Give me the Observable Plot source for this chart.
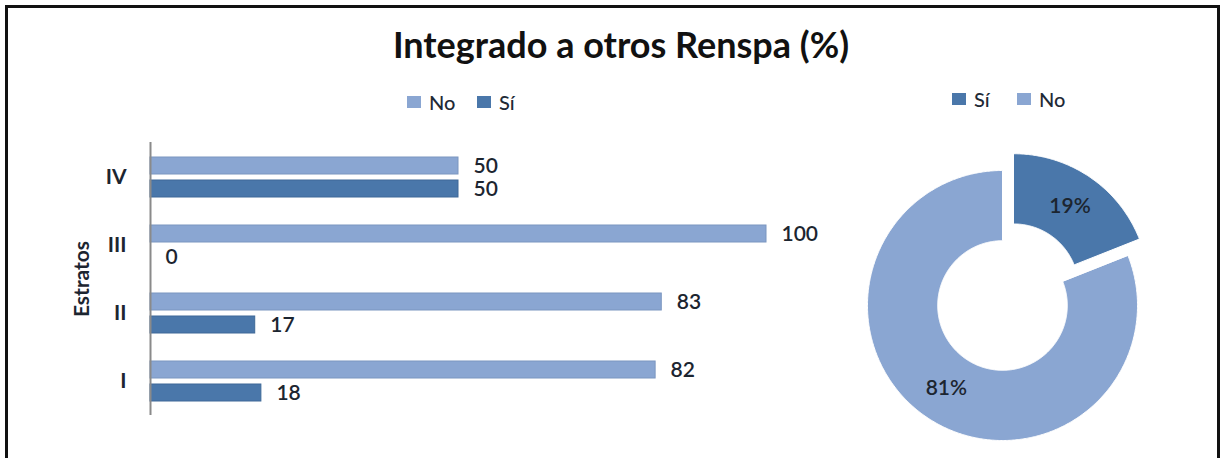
<!DOCTYPE html>
<html>
<head>
<meta charset="utf-8">
<script src="https://cdn.jsdelivr.net/npm/d3@7"></script>
<script src="https://cdn.jsdelivr.net/npm/@observablehq/plot@0.6"></script>
<style>
  body { margin: 0; background: #fff; font-family: Lato, "Open Sans", sans-serif; }
  #root { position: relative; width: 1220px; height: 458px; overflow: hidden; background: #fff; }
  #frame { position: absolute; left: 5px; top: 5px; width: 1209px; height: 480px; border: 3px solid #111; border-bottom: none; }
  #title { position: absolute; left: 0; width: 1242px; text-align: center; top: 26px; font-size: 36px; font-weight: bold; color: #111; line-height: 1; }
  .lg { position: absolute; display: flex; align-items: center; font-size: 20px; font-weight: 500; color: #1f2a36; line-height: 1; }
  .sw { width: 14px; height: 12px; display: inline-block; margin-right: 8px; }
  #bars { position: absolute; left: 0; top: 130px; }
  #donut { position: absolute; left: 847px; top: 150px; }
</style>
</head>
<body>
<div id="root">
  <div id="frame"></div>
  <div id="title">Integrado a otros Renspa (%)</div>
  <div id="legendBars"></div>
  <div id="legendDonut"></div>
  <div id="bars"></div>
  <div id="donut"></div>
</div>
<script>
// ---- data ----
const estratos = ["IV", "III", "II", "I"];
const series = ["No", "Sí"];
const noValues = [50, 100, 83, 82];
const siValues = [50, 0, 17, 18];
const donutLabels = ["Sí", "No"];
const donutValues = [19, 81];
const barTitle = "Integrado a otros Renspa (%)";
const axisLabel = "Estratos";

// ---- style ----
const colorNo = "#8aa6d2";
const colorSi = "#4a77aa";
const colorOf = {"No": colorNo, "Sí": colorSi};
const textColor = "#1c2530";

// ---- legends (HTML) ----
function legend(container, items, lefts, top) {
  const el = document.getElementById(container);
  items.forEach((k, i) => {
    const d = document.createElement("div");
    d.className = "lg";
    d.style.left = lefts[i] + "px";
    d.style.top = top + "px";
    const s = document.createElement("span");
    s.className = "sw";
    s.style.background = colorOf[k];
    d.appendChild(s);
    d.appendChild(document.createTextNode(k));
    el.appendChild(d);
  });
}
legend("legendBars", series, [407, 477], 92);
legend("legendDonut", donutLabels, [952, 1017], 89);

// ---- bar chart ----
const rows = estratos.flatMap((e, i) => [
  {estrato: e, serie: "No", value: noValues[i]},
  {estrato: e, serie: "Sí", value: siValues[i]}
]);
const rowsNo = rows.filter(d => d.serie === "No");
const rowsSi = rows.filter(d => d.serie === "Sí");

const bars = Plot.plot({
  width: 840,
  height: 300,
  marginLeft: 150,
  marginRight: 74,
  marginTop: 12,
  marginBottom: 15,
  style: {fontFamily: "Lato, 'Open Sans', sans-serif", fontSize: "20px", color: textColor, background: "transparent", overflow: "visible"},
  x: {domain: [0, 100], axis: null},
  y: {domain: estratos, padding: 0},
  color: {domain: series, range: [colorNo, colorSi]},
  marks: [
    Plot.barX(rowsNo, {x: "value", y: "estrato", fill: "serie", stroke: "#7b96c0", strokeWidth: 1, insetTop: 14, insetBottom: 37}),
    Plot.barX(rowsSi, {x: "value", y: "estrato", fill: "serie", stroke: "#3e6998", strokeWidth: 1, insetTop: 37, insetBottom: 14}),
    Plot.text(rowsNo, {x: "value", y: "estrato", text: d => String(d.value), dx: 15, dy: -11.5, textAnchor: "start", fill: textColor, fontSize: 21, fontWeight: 600}),
    Plot.text(rowsSi, {x: "value", y: "estrato", text: d => String(d.value), dx: 15, dy: 11.5, textAnchor: "start", fill: textColor, fontSize: 21, fontWeight: 600}),
    Plot.ruleX([0], {stroke: "#8a8a8a", strokeWidth: 2}),
    Plot.axisY({tickSize: 0, tickPadding: 24, fontSize: 21, fontWeight: "bold", fill: textColor, label: null}),
    Plot.text([axisLabel], {frameAnchor: "left", textAnchor: "middle", rotate: -90, dx: -68, fontSize: 21, fontWeight: "bold", fill: textColor})
  ]
});
document.getElementById("bars").appendChild(bars);

// ---- donut chart ----
const outerR = 1, innerR = 0.48, explode = 0.15, labelR = 0.74;
const arcs = d3.pie().sort(null).value(d => d)(donutValues);
const slicePts = [];
const labelPts = [];
arcs.forEach((a, i) => {
  const name = donutLabels[i];
  const mid = (a.startAngle + a.endAngle) / 2;
  const off = name === "Sí" ? explode : 0;
  const ox = off * Math.sin(mid), oy = off * Math.cos(mid);
  const n = Math.max(2, Math.ceil((a.endAngle - a.startAngle) / 0.01));
  for (let k = 0; k <= n; k++) {
    const t = a.startAngle + (a.endAngle - a.startAngle) * k / n;
    slicePts.push({slice: name, x: ox + outerR * Math.sin(t), y: oy + outerR * Math.cos(t)});
  }
  for (let k = n; k >= 0; k--) {
    const t = a.startAngle + (a.endAngle - a.startAngle) * k / n;
    slicePts.push({slice: name, x: ox + innerR * Math.sin(t), y: oy + innerR * Math.cos(t)});
  }
  labelPts.push({slice: name, label: donutValues[i] + "%", x: ox + labelR * Math.sin(mid), y: oy + labelR * Math.cos(mid)});
});

const ext = 1.148;
const donut = Plot.plot({
  width: 310,
  height: 310,
  margin: 0,
  style: {fontFamily: "Lato, 'Open Sans', sans-serif", fontSize: "20px", background: "transparent", overflow: "visible"},
  x: {domain: [-ext, ext], axis: null},
  y: {domain: [-ext, ext], axis: null},
  color: {domain: series, range: [colorNo, colorSi]},
  marks: [
    Plot.line(slicePts, {x: "x", y: "y", z: "slice", fill: "slice", stroke: "#ffffff", strokeWidth: 1, curve: "linear-closed"}),
    Plot.text(labelPts, {x: "x", y: "y", text: "label", fill: textColor, fontSize: 21, fontWeight: 600})
  ]
});
document.getElementById("donut").appendChild(donut);
</script>
</body>
</html>
